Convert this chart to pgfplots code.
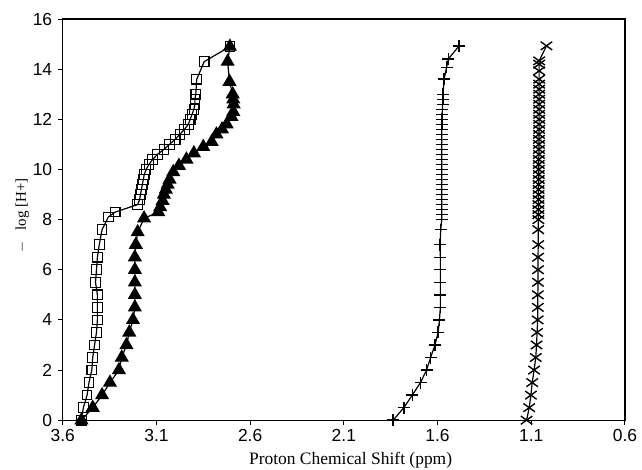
\documentclass[border=0pt]{standalone}
\usepackage{fontspec}
\setmainfont{Liberation Serif}
\newfontfamily\tickfont{Liberation Sans}
\usepackage{pgfplots}
\pgfplotsset{compat=1.18}
\usetikzlibrary{calc}
\begin{document}
\begin{tikzpicture}
\begin{axis}[
  scale only axis,
  width=562bp, height=401bp,
  x dir=reverse,
  xmin=0.6, xmax=3.6, ymin=0, ymax=16,
  xtick={0.6,1.1,1.6,2.1,2.6,3.1,3.6},
  xticklabels={0.6,1.1,1.6,2.1,2.6,3.1,3.6},
  ytick={0,2,4,6,8,10,12,14,16},
  tick align=outside,
  xtick pos=bottom, ytick pos=left,
  major tick length=5bp,
  axis line style={line width=1.3pt},
  tick style={line width=1pt,black},
  /pgf/number format/assume math mode=true,
  tick label style={font=\tickfont\fontsize{17.5}{19}\selectfont},
  xticklabel style={yshift=-1bp},
  yticklabel style={xshift=-2bp},
  xlabel={Proton Chemical Shift (ppm)},
  xlabel style={font=\fontsize{17.5}{20}\selectfont, at={(axis description cs:0.512,0)}, anchor=center, yshift=-40bp},
  ylabel={$-$\ \ \ log [H+]},
  ylabel style={font=\fontsize{15}{17}\selectfont, at={(axis description cs:-0.072,0.51)}, anchor=center},
  every axis plot/.append style={black, line width=1.2pt},
]
% open squares
\addplot[mark=square, mark size=4.8bp, mark options={solid, fill=white, line width=1.1pt}] coordinates {
(3.50,0.0) (3.49,0.5) (3.47,1.0) (3.46,1.5) (3.445,2.0) (3.44,2.5) (3.43,3.0) (3.42,3.5)
(3.415,4.0) (3.415,4.5) (3.415,5.0) (3.425,5.5) (3.42,6.0) (3.415,6.5) (3.405,7.0) (3.39,7.6)
(3.357,8.1) (3.32,8.3) (3.20,8.6) (3.19,8.8) (3.185,9.0) (3.18,9.2) (3.175,9.4) (3.17,9.6)
(3.165,9.8) (3.155,10.0) (3.14,10.2) (3.12,10.4) (3.095,10.6) (3.06,10.8) (3.03,11.0) (3.00,11.2)
(2.975,11.4) (2.95,11.6) (2.93,11.8) (2.92,12.0) (2.91,12.2) (2.90,12.4) (2.895,12.6) (2.895,12.8)
(2.89,13.0) (2.885,13.6) (2.845,14.3) (2.708,14.9)
};
% filled triangles
\addplot[mark=triangle*, mark size=7bp, mark options={solid, fill=black}] coordinates {
(3.50,0.0) (3.44,0.5) (3.39,1.0) (3.348,1.5) (3.30,2.0) (3.285,2.5) (3.26,3.0) (3.245,3.5)
(3.225,4.0) (3.215,4.5) (3.215,5.0) (3.215,5.5) (3.215,6.0) (3.215,6.5) (3.21,7.0) (3.20,7.5)
(3.166,8.05) (3.09,8.3) (3.08,8.5) (3.067,8.75) (3.06,9.0) (3.05,9.2) (3.04,9.4) (3.03,9.6)
(3.01,9.9) (2.98,10.15) (2.94,10.4) (2.90,10.65) (2.85,10.9) (2.805,11.1) (2.78,11.4) (2.75,11.6)
(2.725,11.8) (2.70,12.1) (2.69,12.3) (2.688,12.6) (2.69,12.8) (2.693,13.0) (2.71,13.5) (2.72,14.3)
(2.708,14.9)
};
% plus
\addplot[mark=+, mark size=6bp, mark options={solid, line width=1.4pt}] coordinates {
(1.837,0.0) (1.78,0.5) (1.735,1.0) (1.691,1.5) (1.659,2.0) (1.637,2.5) (1.614,3.0) (1.597,3.5)
(1.59,4.0) (1.585,4.5) (1.585,5.0) (1.585,5.5) (1.585,6.0) (1.585,6.5) (1.587,7.0) (1.583,7.6)
(1.578,8.0) (1.578,8.2) (1.578,8.4) (1.578,8.6) (1.578,8.8) (1.578,9.0) (1.578,9.2) (1.578,9.4)
(1.578,9.6) (1.578,9.8) (1.578,10.0) (1.578,10.2) (1.578,10.4) (1.578,10.6) (1.578,10.8) (1.578,11.0)
(1.578,11.2) (1.578,11.4) (1.578,11.6) (1.577,11.8) (1.576,12.0) (1.575,12.2) (1.574,12.4) (1.573,12.6)
(1.572,12.8) (1.571,13.0) (1.565,13.6) (1.552,14.07) (1.543,14.4) (1.485,14.93)
};
% crosses
\addplot[mark=x, mark size=6.5bp, mark options={solid, line width=1.4pt, xscale=1.25, yscale=0.9}] coordinates {
(1.125,0.0) (1.111,0.5) (1.102,1.0) (1.095,1.5) (1.085,2.0) (1.076,2.5) (1.072,3.0) (1.069,3.5)
(1.066,4.0) (1.065,4.5) (1.065,5.0) (1.064,5.5) (1.064,6.0) (1.064,6.5) (1.063,7.0) (1.063,7.6)
(1.062,8.0) (1.062,8.2) (1.062,8.4) (1.062,8.6) (1.061,8.8) (1.061,9.0) (1.061,9.2) (1.061,9.4)
(1.060,9.6) (1.060,9.8) (1.060,10.0) (1.060,10.2) (1.060,10.4) (1.059,10.6) (1.059,10.8) (1.059,11.0)
(1.059,11.2) (1.059,11.4) (1.058,11.6) (1.058,11.8) (1.058,12.0) (1.058,12.2) (1.058,12.4) (1.058,12.6)
(1.058,12.8) (1.058,13.0) (1.058,13.2) (1.058,13.4) (1.058,13.6) (1.058,13.93) (1.058,14.2) (1.058,14.33)
(1.019,14.93)
};
\end{axis}
\pgfresetboundingbox
\path[use as bounding box] ($(current axis.south west)+(-62.7bp,-49bp)$) rectangle ($(current axis.north east)+(17bp,19bp)$);
\end{tikzpicture}
\end{document}
